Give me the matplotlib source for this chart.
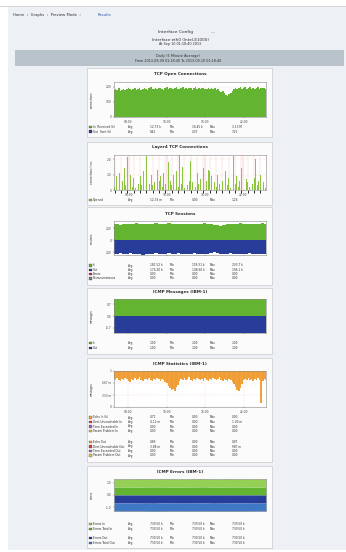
import matplotlib
matplotlib.use("Agg")
import matplotlib.pyplot as plt
from matplotlib.patches import Rectangle
import numpy as np

W, H = 346, 552

# ---- data -------------------------------------------------------------
hours = ["04:00", "10:00", "16:00", "22:00"]
hour_pos = [9, 33, 57, 81]

tcp_open = [
    178, 185, 181, 190, 176, 183, 188, 180, 186, 192, 184, 179,
    189, 195, 183, 187, 191, 182, 188, 194, 186, 180, 190, 197,
    185, 189, 193, 184, 191, 196, 188, 183, 192, 198, 187, 190,
    194, 185, 191, 199, 189, 184, 193, 197, 186, 192, 188, 195,
    190, 183, 194, 198, 187, 191, 185, 193, 196, 189, 184, 192,
    188, 195, 186, 190, 181, 187, 176, 168, 172, 158, 146, 139,
    150, 162, 174, 185, 192, 186, 194, 199, 188, 191, 197, 185,
    193, 200, 189, 195, 187, 192, 198, 186, 194, 190, 196, 188]

l4_conn = [
    0.2, 0.9, 0.4, 1.1, 0.0, 0.6, 1.4, 0.3, 2.1, 0.5, 1.0, 0.2,
    0.8, 0.1, 1.6, 0.4, 0.9, 0.3, 1.2, 0.0, 2.2, 0.7, 0.4, 1.0,
    0.3, 0.5, 0.1, 1.3, 0.6, 0.9, 0.2, 1.1, 0.4, 0.0, 1.8, 0.6,
    0.3, 1.0, 0.5, 1.2, 0.2, 2.3, 0.4, 1.5, 0.1, 0.8, 0.3, 0.6,
    1.9, 0.5, 0.9, 0.2, 1.1, 0.4, 0.7, 0.0, 1.4, 0.3, 0.6, 1.3,
    1.2, 0.9, 1.1, 0.5, 0.2, 1.0, 0.4, 0.0, 0.6, 0.2, 1.2, 0.3,
    0.8, 0.1, 0.5, 2.2, 0.4, 0.9, 0.2, 0.6, 1.4, 0.3, 0.0, 0.7,
    0.5, 0.2, 1.1, 0.4, 0.8, 2.0, 0.3, 0.6, 1.0, 0.2, 0.5, 0.1]

sess_in = [
    262, 270, 258, 275, 266, 272, 260, 279, 268, 264, 274, 270,
    259, 276, 268, 272, 265, 278, 262, 270, 274, 266, 271, 260,
    268, 275, 263, 270, 277, 265, 272, 258, 248, 240, 255, 268,
    274, 262, 270, 278, 266, 273, 260, 275, 269, 264, 277, 270]
sess_out = [
    -228, -236, -222, -240, -230, -218, -238, -226, -233, -242, -225, -231,
    -237, -220, -234, -228, -241, -224, -232, -236, -219, -230, -239, -227,
    -235, -223, -232, -240, -226, -229, -210, -204, -222, -236, -228, -234,
    -221, -239, -230, -225, -237, -232, -224, -240, -229, -233, -226, -238]

msg_in = [1.0, 1.0, 1.0, 1.0, 1.0, 1.0, 1.0, 1.0, 1.0, 1.0, 1.0, 1.0, 1.0]
msg_out = [-1.0, -1.0, -1.0, -1.0, -1.0, -1.0, -1.0, -1.0, -1.0, -1.0, -1.0, -1.0, -1.0]

util = [
    0.78, 0.74, 0.80, 0.76, 0.72, 0.79, 0.75, 0.81, 0.77, 0.73, 0.70, 0.78,
    0.76, 0.80, 0.74, 0.78, 0.82, 0.75, 0.71, 0.79, 0.77, 0.74, 0.80, 0.76,
    0.73, 0.78, 0.75, 0.81, 0.77, 0.72, 0.79, 0.74, 0.70, 0.66, 0.58, 0.52,
    0.46, 0.50, 0.44, 0.56, 0.62, 0.72, 0.78, 0.75, 0.80, 0.74, 0.77, 0.82,
    0.76, 0.73, 0.79, 0.75, 0.81, 0.77, 0.74, 0.78, 0.72, 0.80, 0.76, 0.73,
    0.79, 0.75, 0.81, 0.77, 0.74, 0.78, 0.82, 0.75, 0.71, 0.79, 0.76, 0.73,
    0.78, 0.74, 0.70, 0.64, 0.55, 0.48, 0.44, 0.52, 0.63, 0.74, 0.79, 0.76,
    0.80, 0.74, 0.77, 0.73, 0.79, 0.75, 0.81, 0.76, 0.10, 0.72, 0.78, 0.75]

err_in_a = [0.66, 0.67, 0.66, 0.68, 0.67, 0.66, 0.67, 0.68, 0.66, 0.67, 0.67, 0.66, 0.67]
err_in_b = [0.67, 0.66, 0.68, 0.66, 0.67, 0.67, 0.66, 0.67, 0.66, 0.67, 0.66, 0.67, 0.67]
err_out_a = [-0.67, -0.66, -0.67, -0.68, -0.66, -0.67, -0.67, -0.66, -0.68, -0.67, -0.66, -0.67, -0.67]
err_out_b = [-0.66, -0.67, -0.66, -0.67, -0.68, -0.66, -0.67, -0.67, -0.66, -0.67, -0.68, -0.66, -0.66]

titles = ["TCP Open Connections", "Layer4 TCP Connections", "TCP Sessions",
          "ICMP Messages (IBM-1)", "ICMP Statistics (IBM-1)", "ICMP Errors (IBM-1)"]

leg1 = [("In  Received (k)", "12.73 k", "16.45 k", "3.13 M"),
        ("Out  Sent (k)", "9.41", "4.37", "7.25")]
leg2 = [("Opened", "12.33 m", "0.00", "1.26")]
leg3 = [("In", "181.52 k", "159.31 k", "203.7 k"),
        ("Out", "174.20 k", "148.60 k", "196.1 k"),
        ("Errors", "0.00", "0.00", "0.00"),
        ("Retransmissions", "0.00", "0.00", "0.00")]
leg4 = [("In", "1.00", "1.00", "1.00"), ("Out", "1.00", "1.00", "1.00")]
leg5 = [("Echo In (k)", "0.71", "0.00", "0.00"),
        ("Dest Unreachable In", "4.12 m", "0.00", "1.00 m"),
        ("Time Exceeded In", "0.00", "0.00", "0.00"),
        ("Param Problem In", "0.00", "0.00", "0.00"),
        ("Echo Out", "0.69", "0.00", "0.97"),
        ("Dest Unreachable Out", "3.88 m", "0.00", "987 m"),
        ("Time Exceeded Out", "0.00", "0.00", "0.00"),
        ("Param Problem Out", "0.00", "0.00", "0.00")]
leg6 = [("Errors In", "730.50 k", "730.50 k", "730.50 k"),
        ("Errors Total In", "730.50 k", "730.50 k", "730.50 k"),
        ("Errors Out", "730.50 k", "730.50 k", "730.50 k"),
        ("Errors Total Out", "730.50 k", "730.50 k", "730.50 k")]

GREEN = "#63b531"
LGREEN = "#93d055"
BLUE = "#283c9a"
LBLUE = "#3f79c6"
ORANGE = "#f2a13a"
TXT = "#2e2e2e"

fig = plt.figure(figsize=(W / 100, H / 100), dpi=100)
fig.patch.set_facecolor("white")


def fx(x):
    return x / W


def fy(y):
    return 1 - y / H


def rect(x0, y0, x1, y1, z=-5, **kw):
    fig.add_artist(Rectangle((fx(x0), fy(y1)), (x1 - x0) / W, (y1 - y0) / H,
                             transform=fig.transFigure, zorder=z, **kw))


def txt(x, y, s, size=2.4, **kw):
    kw.setdefault("color", TXT)
    kw.setdefault("va", "center")
    fig.text(fx(x), fy(y), s, fontsize=size, zorder=5, **kw)


# page frame
fig.add_artist(plt.Line2D([0, 1], [fy(6), fy(6)], color="#cfcfcf", lw=0.6,
                          transform=fig.transFigure, zorder=-4))
rect(8, 7, 346, 550, z=-10, facecolor="#edf0f4", edgecolor="none")

txt(13, 15, "Home  \u203a  Graphs  \u203a  Preview Mode  \u203a", size=2.7)
txt(98, 15, "Results", size=2.7, color="#3359b0")

txt(176, 32, "Interface Config", size=3.2, ha="center")
txt(213, 32, "\u2014", size=3.0, ha="center", color="#777777")
txt(180, 40, "Interface eth0 (Intel-E1000)", size=3.0, ha="center")
txt(180, 44.5, "At Sep 10 01:18:40 2013", size=2.4, ha="center")

rect(15, 50, 343, 65, facecolor="#b9c3cc", edgecolor="#a6b0b9", lw=0.4)
txt(178, 55.5, "Daily (5 Minute Average)", size=2.5, ha="center")
txt(178, 61, "From 2013-09-09 01:18:40 To 2013-09-10 01:18:40", size=2.4, ha="center")

PX0, PX1 = 114, 266


def panel(y0, y1, title, ty):
    rect(87, y0, 272, y1, facecolor="#fbfbfb", edgecolor="#c9c9c9", lw=0.5)
    txt(180, ty, title, size=3.0, ha="center", weight="bold")


def plot_axes(y0, y1, ylim, yticks, ylabels, ylab):
    ax = fig.add_axes([fx(PX0), fy(y1), (PX1 - PX0) / W, (y1 - y0) / H])
    ax.set_facecolor("white")
    ax.set_ylim(*ylim)
    ax.set_yticks(yticks)
    ax.set_yticklabels(ylabels)
    ax.set_xticks(hour_pos)
    ax.set_xticklabels(hours)
    ax.tick_params(labelsize=2.1, length=1, width=0.3, pad=1, colors="#444444")
    for s in ax.spines.values():
        s.set_linewidth(0.4)
        s.set_color("#888888")
    ax.grid(True, color="#f2b8b8", lw=0.3, ls=":")
    ax.set_axisbelow(True)
    txt(92, (y0 + y1) / 2, ylab, size=2.0, rotation=90, ha="center")
    return ax


def legend(y, rows, colors, step):
    for i, (lab, avg, mn, mx) in enumerate(rows):
        yy = y + i * step
        rect(89, yy - 1.3, 91.6, yy + 1.3, z=4, facecolor=colors[i], edgecolor="#333333", lw=0.2)
        txt(93, yy, lab, size=2.1)
        txt(128, yy, "Avg", size=2.1)
        txt(150, yy, avg, size=2.1)
        txt(170, yy, "Min", size=2.1)
        txt(192, yy, mn, size=2.1)
        txt(210, yy, "Max", size=2.1)
        txt(232, yy, mx, size=2.1)


# 1 -- TCP open connections
panel(68, 137, titles[0], 74)
ax = plot_axes(82, 117, (0, 233), [0, 100, 200], ["0", "100", "200"], "connections")
x = np.arange(len(tcp_open))
ax.fill_between(x, 0, tcp_open, step="mid", color=GREEN, lw=0)
ax.set_xlim(0, len(tcp_open) - 1)
legend(127, leg1, [GREEN, BLUE], 4.6)

# 2 -- layer4 connections
panel(142, 205, titles[1], 147)
ax = plot_axes(155, 190, (0, 2.26), [0, 1, 2], ["0", "1.0", "2.0"], "connections / sec")
x = np.arange(len(l4_conn))
ax.grid(True, axis="x", color="#f0a8a8", lw=0.35, ls="-")
ax.set_xticks(np.arange(0, len(l4_conn), 4), minor=True)
ax.grid(True, which="minor", axis="x", color="#f6c8c8", lw=0.3)
ax.bar(x, l4_conn, width=0.55, color="#8cc63f", lw=0)
ax.set_xlim(-0.5, len(l4_conn) - 0.5)
legend(200, leg2, ["#8cc63f"], 4.6)

# 3 -- TCP sessions
panel(207, 285, titles[2], 214)
ax = plot_axes(221, 255, (-250, 317), [-200, 0, 200], ["200", "0", "200"], "sessions")
x = np.arange(len(sess_in))
ax.fill_between(x, 0, sess_in, step="mid", color=GREEN, lw=0)
ax.fill_between(x, 0, sess_out, step="mid", color=BLUE, lw=0)
ax.set_xlim(0, len(sess_in) - 1)
ax.set_xticks([p * (len(sess_in) - 1) / 95 for p in hour_pos])
legend(265.5, leg3, [GREEN, BLUE, "#cc3333", "#7f7f7f"], 4.3)

# 4 -- ICMP messages
panel(288, 354, titles[3], 292)
ax = plot_axes(299, 333, (-1.0, 1.0), [-0.7, 0, 0.7], ["-0.7", "0.0", "0.7"], "messages")
x = np.arange(len(msg_in))
ax.fill_between(x, 0, msg_in, color=GREEN, lw=0)
ax.fill_between(x, 0, msg_out, color=BLUE, lw=0)
ax.set_xlim(0, len(msg_in) - 1)
ax.set_xticks([p * (len(msg_in) - 1) / 95 for p in hour_pos])
legend(343, leg4, [GREEN, BLUE], 5)

# 5 -- ICMP statistics
panel(358, 462, titles[4], 364)
ax = plot_axes(371, 407, (0, 1), [0, 0.333, 0.667, 1], ["0", "333 m", "667 m", "1"], "messages")
x = np.arange(len(util))
ax.fill_between(x, util, 1, step="mid", color=ORANGE, lw=0)
ax.vlines(x[::3], util[::3], 1, color="#e08a20", lw=0.25)
ax.set_xlim(0, len(util) - 1)
legend(417.5, leg5[:4], [ORANGE, "#d94040", "#9a6bbf", "#e0c040"], 4.5)
legend(442, leg5[4:], [ORANGE, "#d94040", "#9a6bbf", "#e0c040"], 4.5)

# 6 -- ICMP errors
panel(466, 548, titles[5], 472)
ax = plot_axes(479, 511, (-1.33, 1.33), [-1, 0, 1], ["-1.0", "0.0", "1.0"], "errors")
x = np.arange(len(err_in_a))
top_a = np.array(err_in_a)
top_b = top_a + np.array(err_in_b)
bot_a = np.array(err_out_a)
bot_b = bot_a + np.array(err_out_b)
ax.fill_between(x, 0, top_a, color=GREEN, lw=0)
ax.fill_between(x, top_a, top_b, color=LGREEN, lw=0)
ax.fill_between(x, 0, bot_a, color=BLUE, lw=0)
ax.fill_between(x, bot_a, bot_b, color=LBLUE, lw=0)
ax.set_xlim(0, len(err_in_a) - 1)
ax.set_xticks([p * (len(err_in_a) - 1) / 95 for p in hour_pos])
legend(524, leg6[:2], [LGREEN, GREEN], 5)
legend(538, leg6[2:], [BLUE, LBLUE], 5)

fig.savefig("out.png", dpi=100)
